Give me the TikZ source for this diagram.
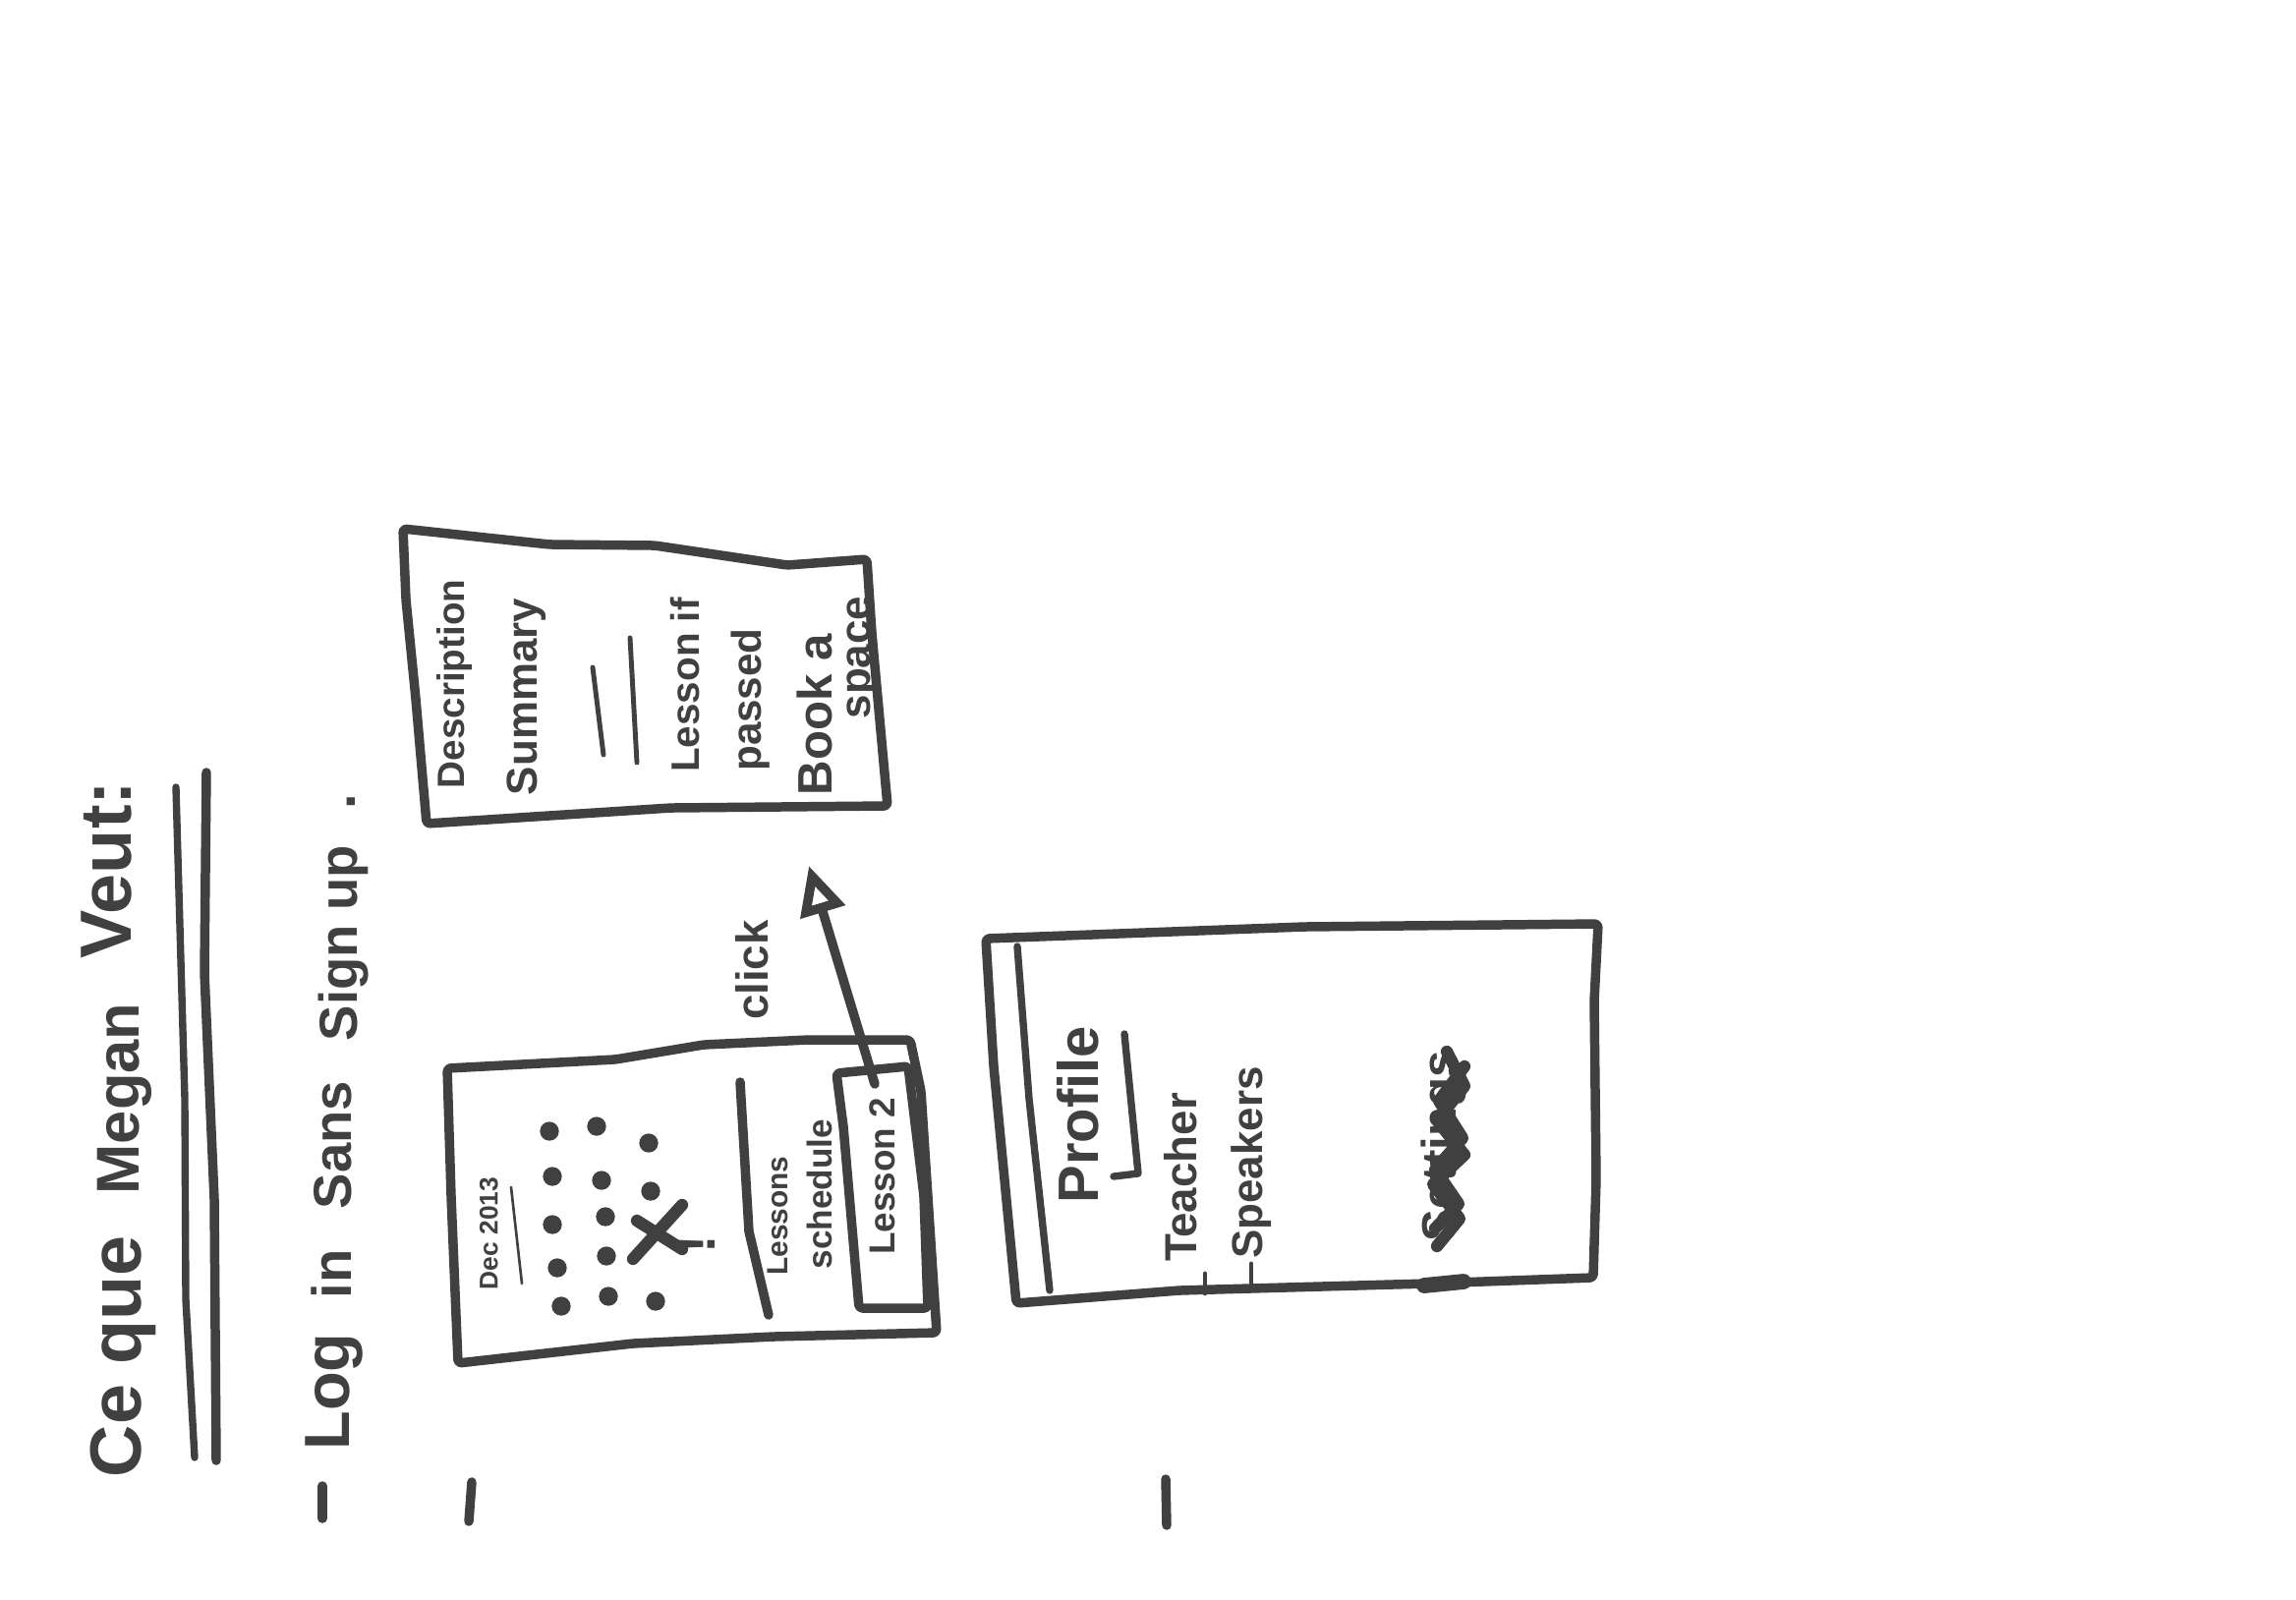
\documentclass[tikz,border=0pt]{standalone}
\usepackage{xcolor}
\usepackage{fontspec}
\setmainfont{Liberation Sans}
\usetikzlibrary{arrows.meta}
\definecolor{ink}{HTML}{404040}
\tikzset{
  pen/.style={draw=ink,line width=5.4pt,line cap=round,line join=round},
  thinpen/.style={draw=ink,line width=2.8pt,line cap=round,line join=round},
  sheet/.style={pen,rounded corners=2pt},
  word/.style={rotate=90,text=ink,inner sep=0pt,text height=0.7em,text depth=0.1em,
    font=\bfseries\fontsize{#1}{#1}\selectfont}
}
\begin{document}
\begin{tikzpicture}[x=0.02cm,y=-0.02cm]
  \useasboundingbox (0,0) rectangle (2336,1627);
  \fill[white] (0,0) rectangle (2336,1627);
  \node[word=42] (cequeword) at (138,1380) {Ce que};
  \node[word=35] (meganword) at (136,1118) {Megan};
  \node[word=42] (veutword) at (128,885) {Veut:};
  \draw[pen,line width=4.2pt] (179,801)--(188,1118)--(189,1322)--(198,1483);
  \draw[pen] (210,786)--(208,990)--(218,1220)--(220,1486);
  \node[word=37] (logword) at (350,1416) {Log};
  \node[word=32] (inword) at (352,1296) {in};
  \node[word=31] (sansword) at (352,1165) {Sans};
  \node[word=31] (signword) at (358,1000) {Sign};
  \node[word=31] (upword) at (358,893) {up};
  \node[word=32] (dotword) at (356,816) {.};
  \draw[pen] (328,1512)--(328,1545);
  \draw[pen] (480,1508)--(477,1548);
  \draw[pen] (1186,1505)--(1187,1552);
  \draw[sheet] (410,538)--(559,554)--(666,555)--(801,575)--(882,569)--(887,644)--(903,820)--(683,822)--(434,838)--(423,711)--(413,610)--cycle;
  \node[word=22] (descword) at (467,696) {Description};
  \node[word=25] (summaryword) at (541,709) {Summary};
  \draw[thinpen] (603,679)--(614,768);
  \draw[thinpen] (641,649)--(648,776);
  \node[word=23] (lessonifword) at (706,697) {Lesson if};
  \node[word=24] (passedword) at (769,712) {passed};
  \node[word=28] (bookword) at (841,727) {Book a};
  \node[word=25] (spaceword) at (880,669) {space};
  \draw[sheet] (455,1087)--(626,1078)--(716,1063)--(823,1058)--(926,1058)--(937,1110)--(953,1356)--(787,1360)--(644,1367)--(466,1387)--(459,1217)--cycle;
  \draw[sheet] (851,1092)--(924,1085)--(940,1217)--(944,1331)--(874,1331)--(858,1146)--cycle;
  \draw[pen] (753,1101)--(762,1253)--(782,1338);
  \node[word=15] (decword) at (501,1255) {Dec 2013};
  \draw[thinpen,line width=1.5pt] (520,1208)--(531,1306);
  \foreach \x/\y in {559/1151,562/1197,562/1246,567/1290,571/1329,607/1146,612/1201,616/1238,617/1278,619/1319,660/1163,662/1212,667/1324}
    \fill[ink] (\x,\y) circle[radius=5.5pt];
  \draw[pen,line width=7pt] (694,1226)--(644,1281);
  \draw[pen,line width=7pt] (648,1242)--(694,1271);
  \node[word=32] (markword) at (722,1266) {!};
  \node[word=17] (lessonsword) at (796,1237) {Lessons};
  \node[word=20] (scheduleword) at (841,1215) {schedule};
  \node[word=21] (lessontwo) at (905,1197) {Lesson 2};
  \node[word=26] (clickword) at (776,987) {click};
  \coordinate (arrowstart) at (890,1103);
  \coordinate (arrowend) at (823,881);
  \draw[pen,-{Triangle[open,length=28pt,width=26pt,line width=5.4pt]}] (arrowstart)--(arrowend);
  \draw[sheet] (1003,955)--(1327,943)--(1626,940)--(1622,1019)--(1624,1200)--(1621,1300)--(1453,1306)--(1200,1313)--(1034,1326)--(1011,1085)--cycle;
  \draw[pen,line width=4.2pt] (1035,963)--(1047,1118)--(1068,1313);
  \node[word=33] (profileword) at (1112,1134) {Profile};
  \draw[pen,line width=4.2pt] (1144,1052)--(1158,1194)--(1133,1197);
  \node[word=26] (teacherword) at (1212,1198) {Teacher};
  \node[word=25] (speakersword) at (1279,1183) {Speakers};
  \draw[thinpen] (1226,1296)--(1226,1316);
  \draw[thinpen] (1273,1286)--(1273,1306);
  \node[word=28] (settingsword) at (1476,1166) {Settings};
  \draw[pen,line width=7pt] (1472,1070)--(1490,1105)--(1462,1140)--(1490,1175)--(1458,1205)--(1485,1240)--(1462,1268);
  \draw[pen,line width=7pt] (1490,1085)--(1464,1120)--(1488,1158)--(1460,1190)--(1484,1225)--(1460,1250);
  \draw[pen,line width=9pt] (1449,1308)--(1489,1304);
\end{tikzpicture}
\end{document}
